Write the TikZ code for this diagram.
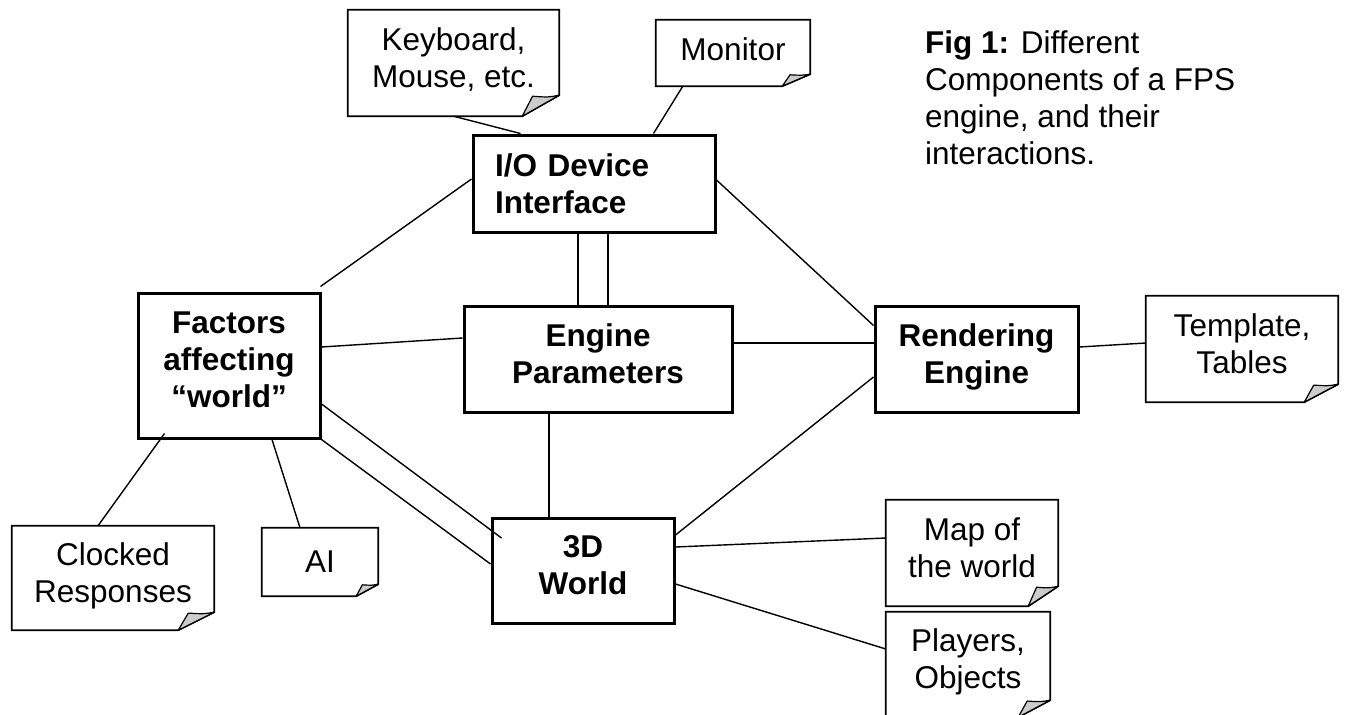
\documentclass[tikz,border=0pt]{standalone}
\usepackage{fontspec}
\setmainfont{Liberation Sans}
\usetikzlibrary{calc}
\definecolor{curlgray}{RGB}{204,204,204}
\tikzset{
  mainbox/.style={draw, line width=3pt, inner sep=0pt, align=center, font=\bfseries\fontsize{31.5}{37}\selectfont},
  notebox/.style={draw=none, inner sep=0pt, align=center, font=\fontsize{31.5}{37}\selectfont},
  link/.style={line width=1.4pt},
  noteline/.style={line width=1.8pt, line join=miter},
  curl/.style={fill=curlgray, draw, line width=1.2pt, line join=round}
}
\newcommand{\foldnote}[3]{%
  \draw[noteline] (#1.north west) -- (#1.north east) -- ([yshift=#3pt]#1.south east) -- ([xshift=-#2pt]#1.south east) -- (#1.south west) -- cycle;
  \path[curl] ([xshift=-#2pt]#1.south east) -- ($(#1.south east)+(-0.72*#2,-0.95*#3)$) .. controls ($(#1.south east)+(-0.3*#2,-0.9*#3)$) .. ([yshift=#3pt]#1.south east) -- cycle;
}
\begin{document}
\begin{tikzpicture}[x=1pt,y=-1pt]
\useasboundingbox (0,0) rectangle (1345,715);
% main boxes
\node[mainbox, minimum width=242pt, minimum height=97pt, text width=198pt, align=left] (io) at (594,183.5) {I/O Device\\Interface};
\node[mainbox, minimum width=182pt, minimum height=145pt] (fac) at (229,365.5) {Factors\\affecting\\“world”\strut};
\node[mainbox, minimum width=268pt, minimum height=106pt] (eng) at (598,359) {Engine\\Parameters\strut};
\node[mainbox, minimum width=203pt, minimum height=106pt] (ren) at (976.5,359) {Rendering\\Engine\strut};
\node[mainbox, minimum width=182pt, minimum height=105pt] (wld) at (583,570.5) {3D\\World\strut};
% notes
\node[notebox, minimum width=211pt, minimum height=106pt] (kb) at (453.5,63) {Keyboard,\\Mouse, etc.\strut};
\node[notebox, minimum width=154pt, minimum height=66pt] (mon) at (733,53) {Monitor\strut};
\node[notebox, minimum width=192pt, minimum height=106pt] (tpl) at (1242,349) {Template,\\Tables\strut};
\node[notebox, minimum width=172pt, minimum height=106pt] (map) at (972,553) {Map of\\the world\strut};
\node[notebox, minimum width=164pt, minimum height=105pt] (ply) at (968,664.5) {Players,\\Objects\strut};
\node[notebox, minimum width=202pt, minimum height=104pt] (clk) at (113,578) {Clocked\\Responses\strut};
\node[notebox, minimum width=116pt, minimum height=68pt] (ai) at (320,562) {AI};
\foldnote{kb}{37}{21}
\foldnote{mon}{28}{12}
\foldnote{tpl}{34}{18}
\foldnote{map}{30}{20}
\foldnote{ply}{32}{17}
\foldnote{clk}{36}{18}
\foldnote{ai}{22}{12}
% caption
\node[anchor=north west, inner sep=0pt, align=left, font=\fontsize{31.5}{37}\selectfont] (cap) at (925,30.4) {\textbf{Fig 1:} Different\\Components of a FPS\\engine, and their\\interactions.};
% connectors
\draw[link] (kb.south) -- ([xshift=49pt]io.north west);
\draw[link] ([xshift=27pt]mon.south west) -- ([xshift=182pt]io.north west);
\draw[link] ([yshift=4.5pt]io.west) -- ([xshift=-1pt,yshift=5pt]fac.north east);
\draw[link] ([yshift=3.5pt]io.east) -- ([yshift=-21pt]ren.north west);
\draw[link] ([xshift=-16pt]io.south) -- ([xshift=-20pt]eng.north);
\draw[link] ([xshift=14pt]io.south) -- ([xshift=10pt]eng.north);
\draw[link] ([yshift=18.5pt]fac.east) -- ([yshift=21pt]eng.west);
\draw[link] ([yshift=16pt]eng.east) -- ([yshift=16pt]ren.west);
\draw[link] ([xshift=-49pt]eng.south) -- ([xshift=-34pt]wld.north);
\draw[link] ([yshift=-18pt]ren.west) -- ([yshift=35.5pt]wld.east);
\draw[link] ([yshift=-38.5pt]fac.east) -- ([xshift=11pt,yshift=32.5pt]wld.west);
\draw[link] (fac.south east) -- ([yshift=6.5pt]wld.west);
\draw[link] ([xshift=28pt,yshift=6pt]fac.south west) -- ([xshift=-15pt]clk.north);
\draw[link] ([xshift=43pt]fac.south) -- ([xshift=-20pt]ai.north);
\draw[link] ([yshift=23.5pt]wld.east) -- ([yshift=15pt]map.west);
\draw[link] ([yshift=-13.5pt]wld.east) -- ([yshift=15.5pt]ply.west);
\draw[link] ([yshift=12pt]ren.east) -- ([yshift=6pt]tpl.west);
\end{tikzpicture}
\end{document}
